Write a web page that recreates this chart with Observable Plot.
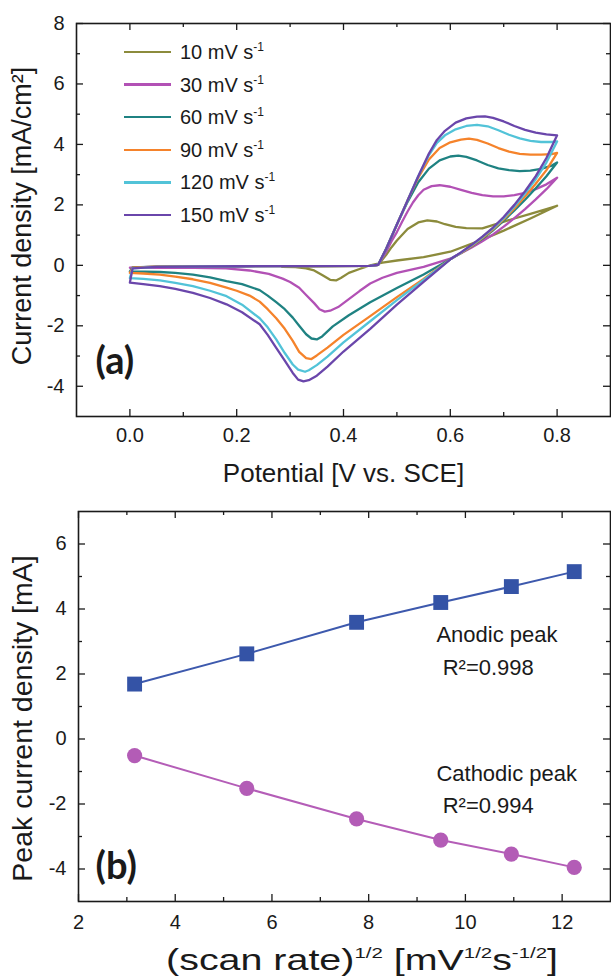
<!DOCTYPE html>
<html><head><meta charset="utf-8">
<script src="https://cdn.jsdelivr.net/npm/d3@7"></script>
<script src="https://cdn.jsdelivr.net/npm/@observablehq/plot@0.6"></script>
<style>
body{margin:0;background:#fff;}
#wrap{position:relative;width:611px;height:976px;overflow:hidden;font-family:"Liberation Sans",Arial,sans-serif;color:#1a1a1a;background:#fff;}
#wrap svg{display:block;}
.lg-line{position:absolute;height:2.5px;}
.lg-text{position:absolute;font-size:20px;line-height:24px;white-space:nowrap;}
.lg-text sup{font-size:12px;line-height:0;vertical-align:8px;}
.xt{position:absolute;font-size:29px;line-height:34px;white-space:nowrap;transform:translate(-50%,-50%);}
.xt sup{font-size:15px;line-height:0;vertical-align:12px;}
</style></head><body><div id="wrap"></div>
<script>
// ---------- Panel (a): cyclic voltammograms [potential V, current mA/cm2] ----------
const rates = ["10", "30", "60", "90", "120", "150"];
const rateColors = ["#8c8b3c", "#b251b5", "#1f8282", "#f5832b", "#52c3d8", "#6a46ab"];

const cv10 = [[0.285,-0.05],[0.35,-0.03],[0.45,-0.02],[0.465,0.02],[0.48,0.35],[0.49,0.6],[0.50,0.82],[0.52,1.2],[0.54,1.42],[0.557,1.49],[0.575,1.45],[0.59,1.36],[0.61,1.27],[0.63,1.23],[0.66,1.22],[0.69,1.39],[0.72,1.55],[0.75,1.7],[0.78,1.86],[0.80,1.97],
  [0.75,1.55],[0.70,1.15],[0.653,0.8],[0.60,0.45],[0.55,0.27],[0.50,0.16],[0.473,0.09],[0.45,0.0],[0.43,-0.12],[0.41,-0.25],[0.395,-0.42],[0.386,-0.5],[0.375,-0.48],[0.36,-0.32],[0.345,-0.17],[0.33,-0.1],[0.31,-0.06],[0.285,-0.05]];
const cv30 = [[0,-0.08],[0.05,-0.04],[0.2,-0.03],[0.45,-0.02],[0.465,0.02],[0.48,0.45],[0.49,0.8],[0.50,1.1],[0.51,1.45],[0.52,1.78],[0.53,2.08],[0.54,2.32],[0.55,2.5],[0.565,2.62],[0.58,2.65],[0.60,2.6],[0.62,2.5],[0.64,2.4],[0.66,2.32],[0.68,2.28],[0.70,2.28],[0.72,2.32],[0.74,2.4],[0.76,2.52],[0.78,2.68],[0.80,2.9],
  [0.78,2.52],[0.76,2.18],[0.74,1.86],[0.72,1.56],[0.70,1.28],[0.68,1.02],[0.66,0.8],[0.64,0.59],[0.62,0.4],[0.60,0.22],[0.55,-0.05],[0.50,-0.25],[0.473,-0.41],[0.45,-0.6],[0.43,-0.85],[0.41,-1.12],[0.39,-1.38],[0.375,-1.5],[0.365,-1.53],[0.355,-1.45],[0.345,-1.25],[0.33,-0.98],[0.317,-0.74],[0.30,-0.55],[0.286,-0.44],[0.26,-0.28],[0.224,-0.17],[0.18,-0.1],[0.12,-0.08],[0,-0.08]];
const cv60 = [[0,-0.2],[0.005,-0.07],[0.05,-0.04],[0.2,-0.03],[0.45,-0.02],[0.465,0.02],[0.48,0.55],[0.50,1.35],[0.52,2.1],[0.54,2.75],[0.56,3.2],[0.58,3.47],[0.60,3.6],[0.615,3.63],[0.63,3.59],[0.65,3.47],[0.67,3.32],[0.69,3.21],[0.71,3.15],[0.73,3.12],[0.75,3.13],[0.77,3.19],[0.79,3.3],[0.80,3.4],
  [0.78,2.95],[0.76,2.55],[0.74,2.17],[0.72,1.82],[0.70,1.48],[0.68,1.16],[0.66,0.88],[0.64,0.63],[0.62,0.41],[0.60,0.2],[0.55,-0.3],[0.50,-0.75],[0.45,-1.22],[0.41,-1.65],[0.38,-2.02],[0.36,-2.35],[0.35,-2.45],[0.34,-2.42],[0.33,-2.28],[0.317,-2.0],[0.305,-1.73],[0.29,-1.45],[0.274,-1.22],[0.258,-1.0],[0.243,-0.82],[0.21,-0.62],[0.181,-0.52],[0.15,-0.4],[0.118,-0.31],[0.085,-0.25],[0.056,-0.22],[0,-0.2]];
const cv90 = [[0,-0.25],[0.005,-0.08],[0.05,-0.04],[0.2,-0.03],[0.45,-0.02],[0.465,0.02],[0.48,0.55],[0.50,1.35],[0.52,2.15],[0.54,2.9],[0.56,3.5],[0.58,3.88],[0.60,4.07],[0.62,4.16],[0.635,4.19],[0.65,4.15],[0.67,4.03],[0.69,3.88],[0.71,3.76],[0.73,3.69],[0.75,3.66],[0.77,3.66],[0.79,3.68],[0.80,3.72],
  [0.78,3.15],[0.76,2.7],[0.74,2.28],[0.72,1.88],[0.70,1.52],[0.68,1.19],[0.66,0.9],[0.64,0.64],[0.62,0.41],[0.60,0.2],[0.55,-0.45],[0.50,-1.05],[0.45,-1.68],[0.40,-2.3],[0.37,-2.72],[0.35,-2.98],[0.34,-3.1],[0.33,-3.07],[0.317,-2.86],[0.305,-2.5],[0.29,-2.1],[0.274,-1.75],[0.258,-1.45],[0.243,-1.2],[0.224,-1.0],[0.2,-0.84],[0.181,-0.74],[0.15,-0.58],[0.118,-0.46],[0.085,-0.37],[0.056,-0.31],[0.025,-0.27],[0,-0.25]];
const cv120 = [[0,-0.42],[0.005,-0.1],[0.05,-0.05],[0.2,-0.03],[0.45,-0.02],[0.465,0.02],[0.48,0.55],[0.50,1.35],[0.52,2.15],[0.54,2.95],[0.56,3.65],[0.575,4.05],[0.59,4.3],[0.61,4.5],[0.63,4.61],[0.65,4.65],[0.67,4.6],[0.69,4.47],[0.71,4.32],[0.73,4.2],[0.75,4.12],[0.77,4.08],[0.79,4.08],[0.80,4.1],
  [0.78,3.4],[0.76,2.85],[0.74,2.38],[0.72,1.95],[0.70,1.56],[0.68,1.22],[0.66,0.93],[0.64,0.66],[0.62,0.42],[0.60,0.2],[0.55,-0.48],[0.50,-1.15],[0.45,-1.85],[0.40,-2.55],[0.37,-3.02],[0.35,-3.3],[0.335,-3.47],[0.328,-3.52],[0.315,-3.45],[0.305,-3.28],[0.29,-2.9],[0.274,-2.45],[0.258,-2.05],[0.243,-1.75],[0.21,-1.3],[0.181,-1.02],[0.15,-0.84],[0.118,-0.69],[0.085,-0.58],[0.056,-0.5],[0.025,-0.45],[0,-0.42]];
const cv150 = [[0,-0.57],[0.005,-0.1],[0.05,-0.05],[0.2,-0.03],[0.45,-0.02],[0.465,0.02],[0.48,0.55],[0.50,1.35],[0.52,2.15],[0.54,2.95],[0.56,3.7],[0.575,4.15],[0.59,4.45],[0.61,4.72],[0.63,4.86],[0.65,4.92],[0.665,4.93],[0.68,4.88],[0.70,4.76],[0.72,4.61],[0.74,4.48],[0.76,4.39],[0.78,4.33],[0.80,4.3],
  [0.78,3.55],[0.76,2.95],[0.74,2.45],[0.72,2.0],[0.70,1.6],[0.68,1.25],[0.66,0.95],[0.64,0.68],[0.62,0.43],[0.60,0.2],[0.55,-0.55],[0.50,-1.3],[0.45,-2.1],[0.40,-2.85],[0.37,-3.35],[0.35,-3.65],[0.335,-3.8],[0.325,-3.84],[0.315,-3.78],[0.305,-3.56],[0.29,-3.15],[0.274,-2.73],[0.258,-2.3],[0.243,-1.95],[0.21,-1.55],[0.181,-1.29],[0.15,-1.08],[0.118,-0.91],[0.085,-0.78],[0.056,-0.69],[0.025,-0.62],[0,-0.57]];
const cvSeries = [cv10, cv30, cv60, cv90, cv120, cv150];

const aXMajor = [0, 0.2, 0.4, 0.6, 0.8];
const aXMinor = [0.1, 0.3, 0.5, 0.7];
const aYMajor = [-4, -2, 0, 2, 4, 6, 8];
const aYMinor = [-3, -1, 1, 3, 5, 7];

// ---------- Panel (b): peak current vs sqrt(scan rate) ----------
const sqrtRate = [3.16, 5.48, 7.75, 9.49, 10.95, 12.25];
const anodicPeak = [1.69, 2.62, 3.59, 4.20, 4.69, 5.15];
const cathodicPeak = [-0.51, -1.52, -2.46, -3.11, -3.54, -3.95];
const bXMajor = [2, 4, 6, 8, 10, 12];
const bXMinor = [3, 5, 7, 9, 11];
const bYMajor = [-4, -2, 0, 2, 4, 6];
const bYMinor = [-3, -1, 1, 3, 5];
const bNotes = [
  {t: "Anodic peak", x: 9.40, y: 3.21},
  {t: "R²=0.998", x: 9.53, y: 2.2},
  {t: "Cathodic peak", x: 9.40, y: -1.07},
  {t: "R²=0.994", x: 9.53, y: -2.05}
];

const FONT = '"Liberation Sans", Arial, sans-serif';
const W = 611, H = 488;
const ink = "#1a1a1a";

function frameTicks(xMajor, xMinor, yMajor, yMinor, m) {
  const fw = W - m.left - m.right, fh = H - m.top - m.bottom;
  const big = 7, small = 4;
  const o = {stroke: ink, strokeWidth: 1.3};
  return [
    Plot.tickX(xMajor, {x: d => d, insetTop: fh - big, ...o}),
    Plot.tickX(xMinor, {x: d => d, insetTop: fh - small, ...o}),
    Plot.tickX(xMajor, {x: d => d, insetBottom: fh - big, ...o}),
    Plot.tickX(xMinor, {x: d => d, insetBottom: fh - small, ...o}),
    Plot.tickY(yMajor, {y: d => d, insetRight: fw - big, ...o}),
    Plot.tickY(yMinor, {y: d => d, insetRight: fw - small, ...o}),
    Plot.tickY(yMajor, {y: d => d, insetLeft: fw - big, ...o}),
    Plot.tickY(yMinor, {y: d => d, insetLeft: fw - small, ...o})
  ];
}

const wrap = document.getElementById("wrap");

// ---- Panel (a)
const cvRows = cvSeries.flatMap((s, k) => s.map(([v, i]) => ({rate: rates[k], v, i})));
const mA = {top: 23, bottom: 72, left: 76, right: 1};
const pA = Plot.plot({
  width: W, height: H,
  marginTop: mA.top, marginBottom: mA.bottom, marginLeft: mA.left, marginRight: mA.right,
  style: {fontFamily: FONT, fontSize: "20px", color: ink, background: "white"},
  x: {domain: [-0.1, 0.9]},
  y: {domain: [-5, 8]},
  color: {domain: rates, range: rateColors},
  marks: [
    Plot.line(cvRows, {x: "v", y: "i", z: "rate", stroke: "rate", strokeWidth: 2.3, curve: "linear"}),
    ...frameTicks(aXMajor, aXMinor, aYMajor, aYMinor, mA),
    Plot.frame({stroke: ink, strokeWidth: 1.6}),
    Plot.axisX(aXMajor, {anchor: "bottom", tickSize: 0, tickPadding: 11, tickFormat: d3.format(".1f"), label: null}),
    Plot.axisY(aYMajor, {anchor: "left", tickSize: 0, tickPadding: 12, tickFormat: d => String(d), label: null}),
    Plot.text(["Potential [V vs. SCE]"], {frameAnchor: "bottom", dy: 57, fontSize: 26, textAnchor: "middle", lineAnchor: "middle", fill: ink}),
    Plot.text(["Current density [mA/cm²]"], {frameAnchor: "left", dx: -54, dy: -4, rotate: -90, fontSize: 27, textAnchor: "middle", lineAnchor: "middle", fill: ink}),
    Plot.text(["(a)"], {frameAnchor: "bottom-left", dx: 19, dy: -55, textAnchor: "start", lineAnchor: "middle", fontSize: 38, fontWeight: "bold", fontFamily: "Lato, 'Open Sans', sans-serif", fill: ink})
  ]
});
wrap.appendChild(pA);

// ---- Panel (b)
const anodic = sqrtRate.map((x, k) => ({x, y: anodicPeak[k]}));
const cathodic = sqrtRate.map((x, k) => ({x, y: cathodicPeak[k]}));
const mB = {top: 23, bottom: 75, left: 78, right: 1};
const pB = Plot.plot({
  width: W, height: H,
  marginTop: mB.top, marginBottom: mB.bottom, marginLeft: mB.left, marginRight: mB.right,
  style: {fontFamily: FONT, fontSize: "20px", color: ink, background: "white"},
  x: {domain: [2, 13]},
  y: {domain: [-5, 7]},
  marks: [
    Plot.line(anodic, {x: "x", y: "y", stroke: "#3d59ad", strokeWidth: 2}),
    Plot.line(cathodic, {x: "x", y: "y", stroke: "#b45db7", strokeWidth: 2}),
    Plot.dot(anodic, {x: "x", y: "y", symbol: "square", r: 8.4, fill: "#3453a6"}),
    Plot.dot(cathodic, {x: "x", y: "y", r: 7.6, fill: "#b35cb6"}),
    ...frameTicks(bXMajor, bXMinor, bYMajor, bYMinor, mB),
    Plot.frame({stroke: ink, strokeWidth: 1.6}),
    Plot.axisX(bXMajor, {anchor: "bottom", tickSize: 0, tickPadding: 13, tickFormat: d => String(d), label: null}),
    Plot.axisY(bYMajor, {anchor: "left", tickSize: 0, tickPadding: 12, tickFormat: d => String(d), label: null}),
    Plot.text(bNotes, {x: "x", y: "y", text: "t", textAnchor: "start", lineAnchor: "middle", fontSize: 22, fill: ink}),
    Plot.text(["Peak current density [mA]"], {frameAnchor: "left", dx: -56, dy: 12, rotate: -90, fontSize: 28.5, textAnchor: "middle", lineAnchor: "middle", fill: ink}),
    Plot.text(["(b)"], {frameAnchor: "bottom-left", dx: 17, dy: -35, textAnchor: "start", lineAnchor: "middle", fontSize: 38, fontWeight: "bold", fontFamily: "Lato, 'Open Sans', sans-serif", fill: ink})
  ]
});
wrap.appendChild(pB);

// ---- Legend for panel (a)
rates.forEach((r, k) => {
  const cy = 52 + 32.6 * k;
  const ln = document.createElement("div");
  ln.className = "lg-line";
  ln.style.left = "124px"; ln.style.width = "47px";
  ln.style.top = (cy - 1.25) + "px";
  ln.style.background = rateColors[k];
  wrap.appendChild(ln);
  const tx = document.createElement("div");
  tx.className = "lg-text";
  tx.style.left = "180px"; tx.style.top = (cy - 12) + "px";
  tx.innerHTML = `${r} mV s<sup>-1</sup>`;
  wrap.appendChild(tx);
});

// ---- X title for panel (b), stretched to the reference's span
const xt = document.createElement("div");
xt.className = "xt";
xt.style.left = "362px"; xt.style.top = "960px";
xt.innerHTML = "(scan rate)<sup>1/2</sup> [mV<sup>1/2</sup>s<sup>-1/2</sup>]";
wrap.appendChild(xt);
const xtw = xt.getBoundingClientRect().width;
xt.style.transform = `translate(-50%,-50%) scaleX(${(392 / xtw).toFixed(3)})`;
</script>
</body></html>
